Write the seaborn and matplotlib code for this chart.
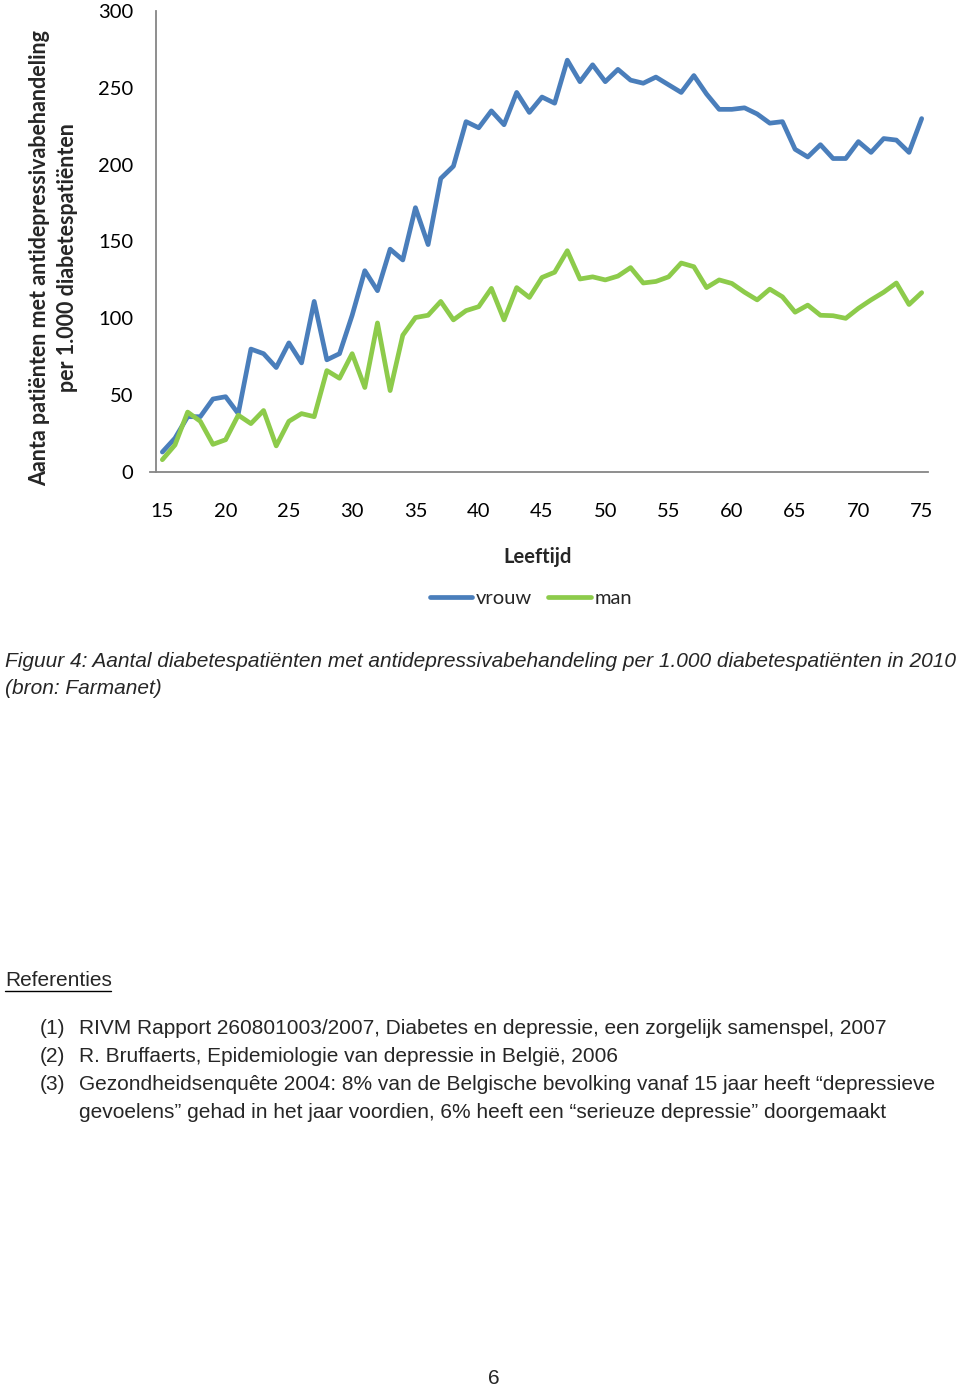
import numpy as np
import pandas as pd
import matplotlib
matplotlib.use("Agg")
import matplotlib.pyplot as plt
from matplotlib.lines import Line2D
import seaborn as sns

ages = list(range(15, 76))
vrouw = [13, 22, 36, 36, 47.5, 49, 38, 80, 77, 68, 84, 71, 111, 73, 77, 102, 131, 118, 145, 138,
         172, 148, 191, 199, 228, 224, 235, 226, 247, 234, 244, 240, 268, 254, 265, 254, 262, 255, 253, 257,
         252, 247, 258, 246, 236, 236, 237, 233, 227, 228, 210, 205, 213, 204, 204, 215, 208, 217, 216, 208,
         230]
man = [8, 17.6, 39, 33, 18, 21, 37, 31.5, 40, 17, 33, 38, 36, 66, 61, 77, 55, 97, 53, 89,
       100.5, 102, 111, 99, 105, 107.6, 119.5, 99, 120, 113.6, 126.6, 130, 144, 125.6, 127, 125, 127.5, 133, 123, 124,
       127, 136, 133.6, 120, 125, 122.7, 117, 112, 119, 114, 104, 108.6, 102, 101.7, 100, 106.5, 112, 117, 123, 109,
       116.7]
series_names = ["vrouw", "man"]
colors = {"vrouw": "#4A7EBB", "man": "#8DCB4B"}
xtick_labels = list(range(15, 80, 5))
ytick_labels = list(range(0, 301, 50))

df = pd.DataFrame({
    "Leeftijd": ages * 2,
    "waarde": vrouw + man,
    "geslacht": ["vrouw"] * len(ages) + ["man"] * len(ages),
})

sns.set_style("white")
plt.rcParams["font.family"] = ["Lato", "DejaVu Sans"]

W, H = 960, 1388
fig = plt.figure(figsize=(W / 100, H / 100), dpi=100)
ax = fig.add_axes([156 / W, 1 - 472 / H, (928 - 156) / W, (472 - 11) / H])

lw = 3.4
sns.lineplot(data=df, x="Leeftijd", y="waarde", hue="geslacht", hue_order=series_names,
             palette=colors, linewidth=lw, ax=ax, legend=False)

axis_gray = "#868686"
ax.set_xlim(14.5, 75.5)
ax.set_ylim(0, 300)
for s in ["top", "right"]:
    ax.spines[s].set_visible(False)
for s in ["left", "bottom"]:
    ax.spines[s].set_color(axis_gray)
    ax.spines[s].set_linewidth(1.3)

ax.set_xticks(xtick_labels)
ax.set_xticklabels([str(v) for v in xtick_labels])
ax.set_xticks(np.arange(14.5, 75.6, 1), minor=True)
ax.tick_params(axis="x", which="major", length=0, pad=22, labelsize=14.5, labelcolor="black")
ax.tick_params(axis="x", which="minor", length=4.5, width=1.2, color=axis_gray, direction="out")
ax.set_yticks(ytick_labels)
ax.set_yticklabels([str(v) for v in ytick_labels])
ax.tick_params(axis="y", which="major", length=4.5, width=1.2, color=axis_gray,
               direction="out", pad=12, labelsize=14.5, labelcolor="black")
ax.set_xlabel("")
ax.set_ylabel("")
ax.grid(False)
ax.spines["bottom"].set_bounds(14.5 - 6 / 12.65, 75.5)

fig.text(54 / W, 1 - 258 / H,
         "Aanta patiënten met antidepressivabehandeling\nper 1.000 diabetespatiënten",
         rotation=90, ha="center", va="center", multialignment="center",
         fontsize=15.5, fontweight="bold", linespacing=1.4)

fig.text(538 / W, 1 - 557 / H, "Leeftijd", ha="center", va="center",
         fontsize=14.5, fontweight="bold")

handles = [Line2D([], [], color=colors[n], linewidth=lw) for n in series_names]
fig.legend(handles, series_names, loc="center", bbox_to_anchor=(531 / W, 1 - 598 / H),
           ncol=2, frameon=False, fontsize=14.5, handlelength=2.1, handletextpad=0.2,
           columnspacing=0.8)

body = ["Liberation Sans", "DejaVu Sans"]
fs = 15.0
fig.text(5 / W, 1 - 661 / H,
         "Figuur 4: Aantal diabetespatiënten met antidepressivabehandeling per 1.000 diabetespatiënten in 2010",
         ha="left", va="center", fontsize=fs, style="italic", family=body)
fig.text(5 / W, 1 - 689 / H, "(bron: Farmanet)", ha="left", va="center",
         fontsize=fs, style="italic", family=body)

fig.text(5 / W, 1 - 980 / H, "Referenties", ha="left", va="center", fontsize=fs, family=body)
fig.lines.append(Line2D([5 / W, 111 / W], [1 - 991 / H, 1 - 991 / H], transform=fig.transFigure,
                        color="black", linewidth=1.0))

refs = [
    ("(1)", "RIVM Rapport 260801003/2007, Diabetes en depressie, een zorgelijk samenspel, 2007"),
    ("(2)", "R. Bruffaerts, Epidemiologie van depressie in België, 2006"),
    ("(3)", "Gezondheidsenquête 2004: 8% van de Belgische bevolking vanaf 15 jaar heeft \u201cdepressieve"),
    ("", "gevoelens\u201d gehad in het jaar voordien, 6% heeft een \u201cserieuze depressie\u201d doorgemaakt"),
]
for i, (num, txt) in enumerate(refs):
    y = 1 - (1028 + 28 * i) / H
    if num:
        fig.text(40 / W, y, num, ha="left", va="center", fontsize=fs, family=body)
    fig.text(79 / W, y, txt, ha="left", va="center", fontsize=fs, family=body)

fig.text(494 / W, 1 - 1378 / H, "6", ha="center", va="center", fontsize=fs, family=body)

fig.savefig("out.png", dpi=100)
